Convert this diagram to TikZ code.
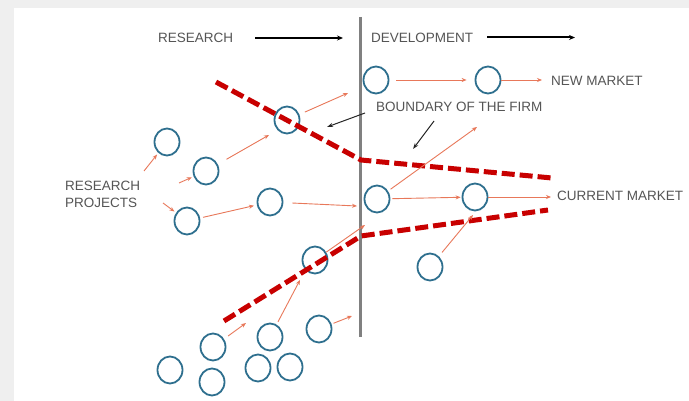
\documentclass[tikz,border=0pt]{standalone}
\usepackage{fontspec}
\setmainfont{Liberation Sans}
\usetikzlibrary{arrows.meta,shapes.geometric}
\definecolor{bgc}{RGB}{239,239,239}
\definecolor{ring}{RGB}{46,111,142}
\definecolor{sal}{RGB}{232,120,90}
\definecolor{dred}{RGB}{200,0,0}
\definecolor{txt}{RGB}{85,85,85}
\definecolor{axisc}{RGB}{128,128,128}
\begin{document}
\begin{tikzpicture}[x=1pt,y=-1pt,
 proj/.style={draw=ring,line width=1.8pt,ellipse,minimum width=25pt,minimum height=27pt,inner sep=0pt},
 flow/.style={draw=sal,line width=0.9pt,-{Stealth[length=5pt,width=4pt]}},
 bound/.style={draw=dred,line width=5pt,dash pattern=on 13pt off 5pt},
 lbl/.style={text=txt,font=\fontsize{13.5}{17}\selectfont,inner sep=0pt,anchor=west},
 phase/.style={draw=black,line width=2pt,-{Stealth[length=6pt,width=5pt]}},
 pointer/.style={draw=black!85,line width=1pt,-{Stealth[length=6pt,width=4pt]}}]
\fill[bgc] (0,0) rectangle (689,401);
\fill[white] (14,8) rectangle (689,401);
\useasboundingbox (0,0) rectangle (689,401);

% divider
\coordinate (vtop) at (360,17);
\coordinate (vbot) at (360,337);
\draw[draw=axisc,line width=3pt] (vtop) -- (vbot);

% labels
\node[lbl] (res) at (158,38) {RESEARCH};
\node[lbl] (dev) at (371,37.5) {DEVELOPMENT};
\node[lbl] (nm) at (551,81) {NEW MARKET};
\node[lbl] (bf) at (376,107) {BOUNDARY OF THE FIRM};
\node[lbl] (cm) at (557,196) {CURRENT MARKET};
\node[lbl,align=left] (rp) at (65,194) {RESEARCH\\PROJECTS};

% phase arrows
\coordinate (r1) at (255,38);
\coordinate (r2) at (343,38);
\coordinate (d1) at (487,37.5);
\coordinate (d2) at (575,37.5);
\draw[phase] (r1) -- (r2);
\draw[phase] (d1) -- (d2);

% projects
\node[proj] (c1) at (167,142) {};
\node[proj] (c2) at (206,171) {};
\node[proj] (c3) at (187,221) {};
\node[proj] (c4) at (270,202) {};
\node[proj] (c5) at (287,120) {};
\node[proj] (c6) at (315,260) {};
\node[proj] (nA) at (376,80) {};
\node[proj] (nB) at (488,80) {};
\node[proj] (cD) at (377,199) {};
\node[proj] (cE) at (475,197) {};
\node[proj] (cF) at (430,267) {};
\node[proj] (b1) at (213,347) {};
\node[proj] (b2) at (270,337) {};
\node[proj] (b3) at (319,329) {};
\node[proj] (b4) at (170,370) {};
\node[proj] (b5) at (212,382) {};
\node[proj] (b6) at (258,368) {};
\node[proj] (b7) at (290,367) {};

% boundary of the firm
\coordinate (t1) at (216,82);
\coordinate (t2) at (361,160);
\coordinate (t3) at (552,178);
\coordinate (u1) at (224,321);
\coordinate (u2) at (361,236);
\coordinate (u3) at (548,210);
\draw[bound] (t1) -- (t2) -- (t3);
\draw[bound] (u1) -- (u2) -- (u3);

% free ends
\coordinate (s1) at (144,171);
\coordinate (s2) at (179,183);
\coordinate (s3) at (163,203);
\coordinate (e5) at (269,135);
\coordinate (e6) at (348,93);
\coordinate (e7) at (357,206);
\coordinate (e8) at (365,225);
\coordinate (e9) at (477,127);
\coordinate (e10) at (473,215);
\coordinate (e11) at (246,323);
\coordinate (e12) at (300,280);
\coordinate (e13) at (352,316);

% flows
\draw[flow,shorten >=2pt] (s1) -- (c1);
\draw[flow,shorten >=2pt] (s2) -- (c2);
\draw[flow,shorten >=2pt] (s3) -- (c3);
\draw[flow,shorten <=3pt,shorten >=3pt] (c3) -- (c4);
\draw[flow,shorten <=10pt] (c2) -- (e5);
\draw[flow,shorten <=6pt] (c5) -- (e6);
\draw[flow,shorten <=9pt] (c4) -- (e7);
\draw[flow] (c6) -- (e8);
\draw[flow,shorten <=7pt,shorten >=8pt] (nA) -- (nB);
\draw[flow,shorten >=9pt] (nB) -- (nm.west |- nB);
\draw[flow,shorten <=2pt,shorten >=1pt] (cD) -- (cE);
\draw[flow,shorten >=6pt] (cE) -- (cm.west |- cE);
\draw[flow,shorten <=3pt] (cD) -- (e9);
\draw[flow,shorten <=5pt] (cF) -- (e10);
\draw[flow,shorten <=5pt] (b1) -- (e11);
\draw[flow,shorten <=3pt] (b2) -- (e12);
\draw[flow,shorten <=2pt] (b3) -- (e13);

% pointers to the boundary
\coordinate (k1s) at (365,113);
\coordinate (k1e) at (327,127);
\coordinate (k2s) at (434,121);
\coordinate (k2e) at (413,149);
\draw[pointer] (k1s) -- (k1e);
\draw[pointer] (k2s) -- (k2e);
\end{tikzpicture}
\end{document}
